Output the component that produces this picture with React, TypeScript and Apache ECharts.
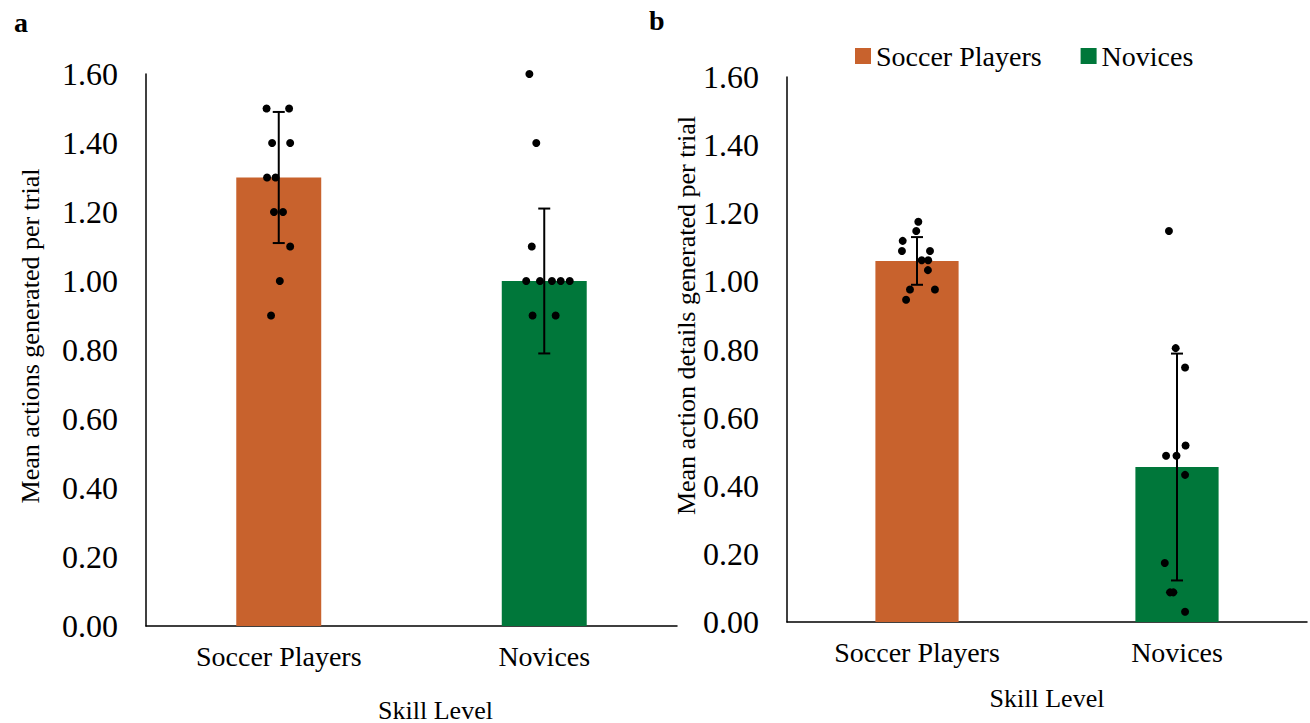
import React, { useEffect, useRef } from "react";
import * as echarts from "echarts";

const categories = ["Soccer Players", "Novices"];

// Panel a
const meansA = [1.3, 1.0];
const sdA = [0.19, 0.21];
const soccerA = [1.5, 1.5, 1.4, 1.4, 1.3, 1.3, 1.2, 1.2, 1.1, 1.0, 0.9];
const soccerAJitter = [-0.046, 0.039, -0.025, 0.043, -0.044, -0.012, -0.018, 0.016, 0.043, 0.004, -0.029];
const noviceA = [1.6, 1.4, 1.1, 1.0, 1.0, 1.0, 1.0, 1.0, 0.9, 0.9];
const noviceAJitter = [-0.056, -0.03, -0.047, -0.068, -0.016, 0.029, 0.062, 0.096, -0.044, 0.043];

// Panel b
const meansB = [1.06, 0.455];
const sdB = [0.07, 0.333];
const soccerB = [1.175, 1.148, 1.119, 1.089, 1.089, 1.062, 1.062, 1.033, 0.976, 0.976, 0.946];
const soccerBJitter = [0.005, -0.003, -0.055, -0.058, 0.05, 0.018, 0.043, 0.042, -0.027, 0.069, -0.042];
const noviceB = [1.148, 0.804, 0.747, 0.518, 0.488, 0.488, 0.432, 0.173, 0.087, 0.087, 0.03];
const noviceBJitter = [-0.031, -0.005, 0.031, 0.033, -0.042, -0.002, 0.031, -0.047, -0.027, -0.014, 0.031];

const titleA = "Mean actions generated per trial";
const titleB = "Mean action details generated per trial";
const xTitle = "Skill Level";

const ORANGE = "#C8622D";
const GREEN = "#00773A";
const FONT = "Liberation Serif";

export default function App() {
  const ref = useRef<HTMLDivElement>(null);
  useEffect(() => {
    document.body.style.margin = "0";
    const chart = echarts.init(ref.current!, null, { renderer: "svg" });

    const errData = (means: number[], sds: number[]) =>
      means.map((m, i) => [i, m - sds[i], m + sds[i]]);
    const dots = (vals: number[], jit: number[], idx: number) =>
      vals.map((v, i) => [idx + jit[i], v]);

    const renderErr = (params: any, api: any) => {
      const x = api.value(0);
      const lo = api.coord([x, api.value(1)]);
      const hi = api.coord([x, api.value(2)]);
      const half = 6;
      const st = { stroke: "#000", lineWidth: 2 };
      return {
        type: "group",
        children: [
          { type: "line", shape: { x1: lo[0], y1: lo[1], x2: hi[0], y2: hi[1] }, style: st },
          { type: "line", shape: { x1: lo[0] - half, y1: lo[1], x2: lo[0] + half, y2: lo[1] }, style: st },
          { type: "line", shape: { x1: hi[0] - half, y1: hi[1], x2: hi[0] + half, y2: hi[1] }, style: st },
        ],
      };
    };

    const yAxisCommon = (name: string, gap: number, shift: number) => ({
      type: "value",
      min: 0,
      max: 1.6,
      interval: 0.2,
      name,
      nameLocation: "middle",
      nameGap: gap,
      nameRotate: 90,
      nameTextStyle: { fontFamily: FONT, fontSize: 26, color: "#000", padding: [0, 0, 0, shift] },
      axisLine: { show: true, onZero: false, lineStyle: { color: "#000", width: 1.5 } },
      axisTick: { show: false },
      splitLine: { show: false },
      axisLabel: {
        fontFamily: FONT,
        fontSize: 32,
        color: "#000",
        margin: 28,
        formatter: (v: number) => v.toFixed(2),
      },
    });

    const xCat = (gridIndex: number, gap: number, pad: number[]) => ({
      type: "category",
      gridIndex,
      data: categories,
      name: xTitle,
      nameLocation: "middle",
      nameGap: gap,
      nameTextStyle: { fontFamily: FONT, fontSize: 26, lineHeight: 24, color: "#000", padding: pad },
      axisLine: { show: true, onZero: false, lineStyle: { color: "#000", width: 1.5 } },
      axisTick: { show: false },
      axisLabel: { fontFamily: FONT, fontSize: 28, color: "#000", margin: 16 },
    });

    const xVal = (gridIndex: number) => ({
      type: "value",
      gridIndex,
      min: -0.5,
      max: 1.5,
      show: false,
    });

    const barPair = (means: number[], xi: number, yi: number) => [
      {
        name: categories[0],
        type: "bar",
        xAxisIndex: xi,
        yAxisIndex: yi,
        barWidth: "32%",
        barGap: "-100%",
        itemStyle: { color: ORANGE },
        data: [means[0], "-"],
      },
      {
        name: categories[1],
        type: "bar",
        xAxisIndex: xi,
        yAxisIndex: yi,
        barWidth: "32%",
        barGap: "-100%",
        itemStyle: { color: GREEN },
        data: ["-", means[1]],
      },
    ];

    const scatter = (data: number[][], xi: number, yi: number) => ({
      type: "scatter",
      xAxisIndex: xi,
      yAxisIndex: yi,
      symbolSize: 8,
      itemStyle: { color: "#000", opacity: 1 },
      z: 5,
      data,
    });

    chart.setOption({
      animation: false,
      textStyle: { fontFamily: FONT },
      grid: [
        { left: 146, right: 633, top: 74, bottom: 97, outerBoundsMode: "none", containLabel: false },
        { left: 787, right: 3, top: 77, bottom: 101, outerBoundsMode: "none", containLabel: false },
      ],
      legend: {
        data: categories,
        left: 850,
        top: 37,
        icon: "rect",
        itemWidth: 16,
        itemHeight: 16,
        itemGap: 39,
        textStyle: { fontFamily: FONT, fontSize: 28, color: "#000" },
        selectedMode: false,
      },
      xAxis: [xCat(0, 72, [0, 0, 0, 48]), xCat(1, 64, [0, 0, 0, 0]), xVal(0), xVal(1)],
      yAxis: [
        { ...yAxisCommon(titleA, 103, 28), gridIndex: 0 },
        { ...yAxisCommon(titleB, 87, 68), gridIndex: 1 },
      ],
      graphic: [
        { type: "text", left: 14, top: 8, style: { text: "a", font: `bold 28px ${FONT}`, fill: "#000" } },
        { type: "text", left: 649, top: 6, style: { text: "b", font: `bold 28px ${FONT}`, fill: "#000" } },
      ],
      series: [
        ...barPair(meansA, 0, 0),
        ...barPair(meansB, 1, 1),
        {
          type: "custom",
          xAxisIndex: 0,
          yAxisIndex: 0,
          renderItem: renderErr,
          encode: { x: 0, y: [1, 2] },
          z: 4,
          data: errData(meansA, sdA),
        },
        {
          type: "custom",
          xAxisIndex: 1,
          yAxisIndex: 1,
          renderItem: renderErr,
          encode: { x: 0, y: [1, 2] },
          z: 4,
          data: errData(meansB, sdB),
        },
        scatter(dots(soccerA, soccerAJitter, 0), 2, 0),
        scatter(dots(noviceA, noviceAJitter, 1), 2, 0),
        scatter(dots(soccerB, soccerBJitter, 0), 3, 1),
        scatter(dots(noviceB, noviceBJitter, 1), 3, 1),
      ],
    });
    return () => chart.dispose();
  }, []);
  return <div ref={ref} style={{ width: 1310, height: 723 }} />;
}
